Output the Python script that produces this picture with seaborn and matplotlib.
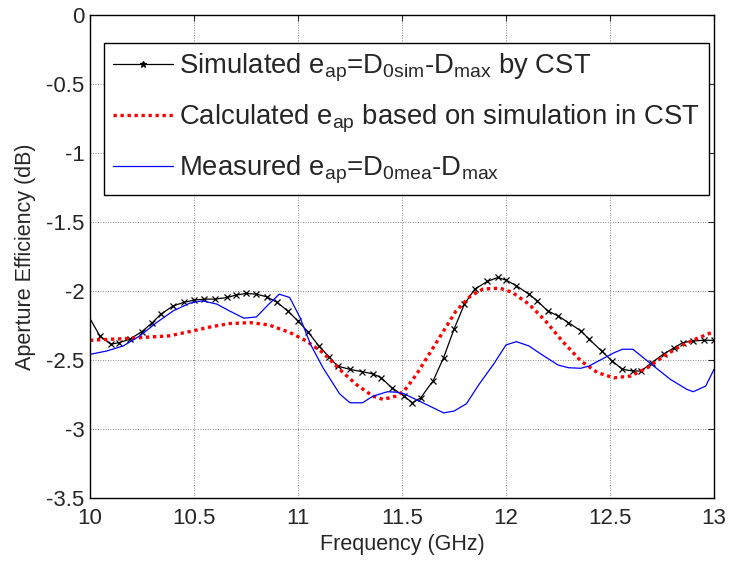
import numpy as np
import pandas as pd
import matplotlib
matplotlib.use("Agg")
import matplotlib.pyplot as plt
import seaborn as sns

# ---- data ----
sim_f = [10.0, 10.047, 10.10, 10.14, 10.19, 10.25, 10.30, 10.34, 10.40, 10.45, 10.50, 10.55, 10.60,
         10.66, 10.70, 10.75, 10.80, 10.85, 10.90, 10.95, 11.0, 11.05, 11.10, 11.15, 11.19, 11.25,
         11.31, 11.36, 11.40, 11.45, 11.51, 11.55, 11.59, 11.65, 11.70, 11.75, 11.80, 11.85, 11.91,
         11.96, 12.0, 12.05, 12.11, 12.15, 12.20, 12.25, 12.30, 12.36, 12.40, 12.46, 12.51, 12.56,
         12.61, 12.65, 12.70, 12.76, 12.81, 12.85, 12.90, 12.95, 13.0]
sim_v = [-2.20, -2.325, -2.386, -2.374, -2.35, -2.294, -2.229, -2.168, -2.108, -2.083, -2.066, -2.059,
         -2.059, -2.047, -2.03, -2.018, -2.023, -2.042, -2.083, -2.144, -2.217, -2.30, -2.398, -2.478,
         -2.544, -2.568, -2.585, -2.60, -2.629, -2.70, -2.762, -2.81, -2.774, -2.65, -2.483, -2.277,
         -2.095, -1.986, -1.931, -1.902, -1.921, -1.962, -2.023, -2.071, -2.144, -2.18, -2.229, -2.289,
         -2.35, -2.435, -2.507, -2.568, -2.58, -2.58, -2.52, -2.454, -2.41, -2.374, -2.362, -2.357, -2.357]

calc_f = [10.0, 10.096, 10.19, 10.29, 10.38, 10.48, 10.58, 10.67, 10.77, 10.86, 10.96, 11.04, 11.12,
          11.20, 11.28, 11.36, 11.41, 11.47, 11.51, 11.57, 11.63, 11.70, 11.76, 11.83, 11.89, 11.97,
          12.03, 12.11, 12.19, 12.27, 12.36, 12.44, 12.52, 12.60, 12.68, 12.76, 12.84, 12.92, 13.0]
calc_v = [-2.357, -2.35, -2.343, -2.333, -2.325, -2.294, -2.26, -2.236, -2.229, -2.246, -2.30, -2.362,
          -2.447, -2.568, -2.677, -2.762, -2.786, -2.762, -2.725, -2.604, -2.459, -2.289, -2.144, -2.035,
          -1.986, -1.979, -2.01, -2.095, -2.217, -2.362, -2.507, -2.592, -2.629, -2.616, -2.556, -2.471,
          -2.398, -2.343, -2.294]

mea_f = [10.0, 10.08, 10.16, 10.24, 10.32, 10.40, 10.48, 10.54, 10.61, 10.67, 10.74, 10.80, 10.86,
         10.91, 10.96, 11.01, 11.06, 11.12, 11.20, 11.25, 11.31, 11.36, 11.43, 11.47, 11.51, 11.60,
         11.70, 11.75, 11.81, 11.87, 11.94, 12.0, 12.05, 12.11, 12.17, 12.25, 12.30, 12.36, 12.40,
         12.46, 12.52, 12.56, 12.61, 12.66, 12.73, 12.79, 12.87, 12.90, 12.96, 13.0]
mea_v = [-2.459, -2.435, -2.398, -2.325, -2.229, -2.144, -2.088, -2.071, -2.095, -2.144, -2.197, -2.188,
         -2.095, -2.023, -2.047, -2.193, -2.386, -2.556, -2.745, -2.81, -2.81, -2.762, -2.73, -2.733,
         -2.745, -2.81, -2.883, -2.87, -2.817, -2.677, -2.531, -2.391, -2.367, -2.398, -2.459, -2.536,
         -2.556, -2.56, -2.543, -2.495, -2.447, -2.422, -2.422, -2.483, -2.568, -2.64, -2.713, -2.73,
         -2.689, -2.568]

labels = [r"Simulated e$_{ap}$=D$_{0sim}$-D$_{max}$ by CST",
          r"Calculated e$_{ap}$ based on simulation in CST",
          r"Measured e$_{ap}$=D$_{0mea}$-D$_{max}$"]
xticks = [10, 10.5, 11, 11.5, 12, 12.5, 13]
yticks = [0, -0.5, -1, -1.5, -2, -2.5, -3, -3.5]

sns.set_style("white")
plt.rcParams['font.family'] = ['Liberation Sans', 'DejaVu Sans']
plt.rcParams['mathtext.default'] = 'regular'
plt.rcParams['axes.unicode_minus'] = False

fig = plt.figure(figsize=(7.32, 5.64), dpi=100)
ax = fig.add_axes([90/732, 1-498/564, (714-90)/732, (498-15)/564])

df_sim = pd.DataFrame({"f": sim_f, "v": sim_v})
df_calc = pd.DataFrame({"f": calc_f, "v": calc_v})
df_mea = pd.DataFrame({"f": mea_f, "v": mea_v})

sns.lineplot(data=df_sim, x="f", y="v", ax=ax, color="black", lw=0.9, marker="x",
             markersize=5, markeredgewidth=0.9, markeredgecolor="black",
             markevery=slice(1, None), label=labels[0])
sns.lineplot(data=df_calc, x="f", y="v", ax=ax, color="#ff0000", lw=2.4, linestyle=(0, (1, 1.1)),
             label=labels[1])
sns.lineplot(data=df_mea, x="f", y="v", ax=ax, color="#0000ff", lw=0.9, label=labels[2])

ax.set_xlim(10, 13)
ax.set_ylim(-3.5, 0)
ax.set_xticks(xticks)
ax.set_xticklabels([f"{t:g}" for t in xticks])
ax.set_yticks(yticks)
ax.set_yticklabels([f"{t:g}" for t in yticks])
ax.tick_params(direction="in", top=True, right=True, labelsize=16, length=4, width=0.8)
ax.tick_params(axis="x", pad=7)
ax.tick_params(axis="y", pad=4)
ax.grid(True, color="#666666", linestyle=(0, (1, 2)), linewidth=0.6)
for s in ax.spines.values():
    s.set_color("black")
    s.set_linewidth(1.0)

ax.set_xlabel("Frequency (GHz)", fontsize=15.5, labelpad=4)
ax.set_ylabel("Aperture Efficiency (dB)", fontsize=15.5, labelpad=7)

leg = ax.legend(loc="upper left", bbox_to_anchor=((104-90)/624, (498-43)/483), fontsize=19.8,
                frameon=True, fancybox=False, edgecolor="black", framealpha=1,
                handlelength=2.2, handletextpad=0.22, borderpad=0.32, labelspacing=0.68,
                borderaxespad=0)
leg.get_frame().set_linewidth(1.0)
for h in leg.legend_handles[:1]:
    h.set_marker("*")
    h.set_markersize(5)
    h.set_markeredgecolor("black")

fig.savefig("out.png", dpi=100)
